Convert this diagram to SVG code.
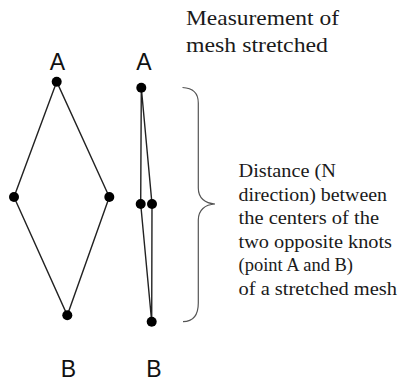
<svg xmlns="http://www.w3.org/2000/svg" width="399" height="381" viewBox="0 0 399 381">
<style>
.lbl{font-family:"Liberation Sans",Arial,sans-serif;font-size:23px;fill:#111;text-anchor:middle}
.edge{stroke:#222;stroke-width:1.4;fill:none}
.knot{fill:#000}
.brace{stroke:#555;stroke-width:1.2;fill:none}
</style>
<rect width="399" height="381" fill="#fff"/>
<g id="connectors">
<path class="edge" d="M56.7,81.7 L14,197 L67.3,315.3 L109.3,197 Z"/>
<path class="edge" d="M141.3,87.7 L140.7,204 L151.7,321.7 L152,204 Z"/>
<path class="brace" d="M182.5,87.5 C194,88 198.3,94 198.3,103 L198.3,188 C198.3,198 205,203.5 215,204 C205,204.5 198.3,210 198.3,220 L198.3,303 C198.3,314 194,321.5 183,321.7"/>
</g>
<g id="mesh-open">
<circle class="knot" cx="56.7" cy="81.7" r="5"/>
<circle class="knot" cx="14" cy="197" r="5"/>
<circle class="knot" cx="109.3" cy="197" r="5"/>
<circle class="knot" cx="67.3" cy="315.3" r="5"/>
<text class="lbl" x="57.5" y="70">A</text>
<text class="lbl" x="68.5" y="376.5">B</text>
</g>
<g id="mesh-stretched">
<circle class="knot" cx="141.3" cy="87.7" r="5"/>
<circle class="knot" cx="140.7" cy="204" r="5"/>
<circle class="knot" cx="152" cy="204" r="5"/>
<circle class="knot" cx="151.7" cy="321.7" r="5"/>
<text class="lbl" x="144" y="70">A</text>
<text class="lbl" x="154" y="376.5">B</text>
</g>
<g id="title" font-family="'Liberation Serif', 'Times New Roman', serif" font-size="21" fill="#1a1a1a">
<text x="186" y="24.5" textLength="153" lengthAdjust="spacingAndGlyphs">Measurement of</text>
<text x="186" y="52" textLength="142" lengthAdjust="spacingAndGlyphs">mesh stretched</text>
</g>
<g id="description" font-family="'Liberation Serif', 'Times New Roman', serif" font-size="19" fill="#1a1a1a">
<text x="238.5" y="177" textLength="97.5" lengthAdjust="spacingAndGlyphs">Distance (N</text>
<text x="238.5" y="200.5" textLength="148.5" lengthAdjust="spacingAndGlyphs">direction) between</text>
<text x="238.5" y="224" textLength="140.5" lengthAdjust="spacingAndGlyphs">the centers of the</text>
<text x="238.5" y="247.5" textLength="153.5" lengthAdjust="spacingAndGlyphs">two opposite knots</text>
<text x="238.5" y="271" textLength="114.5" lengthAdjust="spacingAndGlyphs">(point A and B)</text>
<text x="238.5" y="294.5" textLength="158.5" lengthAdjust="spacingAndGlyphs">of a stretched mesh</text>
</g>
</svg>
